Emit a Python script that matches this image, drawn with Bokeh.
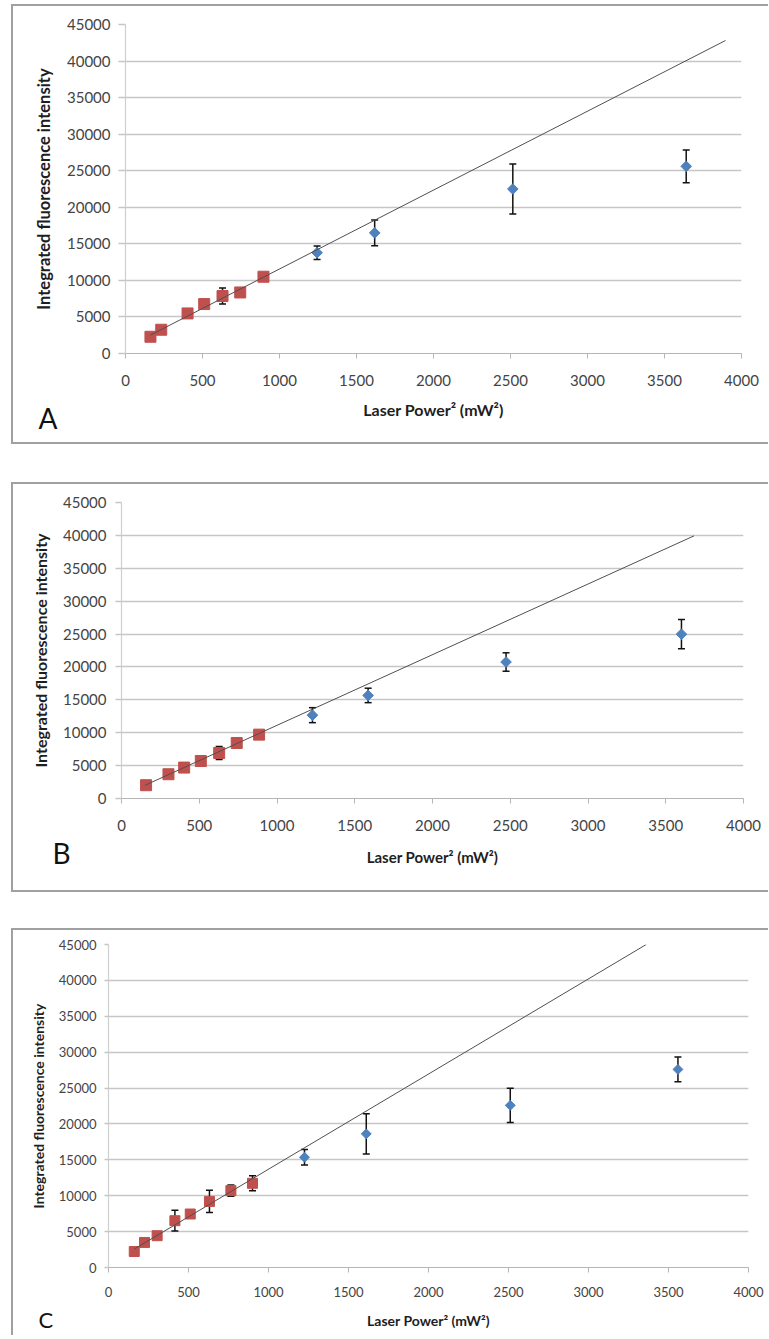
import numpy as np
from bokeh.plotting import figure
from bokeh.models import (Range1d, FixedTicker, ColumnDataSource, Whisker, TeeHead,
                          Label, Column, Spacer)
from bokeh.embed import file_html
from bokeh.resources import INLINE

# ---------------- data ----------------
x_ticks = [0, 500, 1000, 1500, 2000, 2500, 3000, 3500, 4000]
x_tick_labels = ["0", "500", "1000", "1500", "2000", "2500", "3000", "3500", "4000"]
y_ticks = [0, 5000, 10000, 15000, 20000, 25000, 30000, 35000, 40000, 45000]
y_tick_labels = ["0", "5000", "10000", "15000", "20000", "25000", "30000", "35000", "40000", "45000"]
x_title = "Laser Power\u00b2 (mW\u00b2)"
y_title = "Integrated fluorescence intensity"
letters = ["A", "B", "C"]

# Panel A
a_red_x = [162, 232, 403, 511, 630, 745, 896]
a_red_y = [2290, 3250, 5480, 6760, 7860, 8350, 10500]
a_red_err = [300, 450, 300, 300, 1100, 300, 300]
a_blue_x = [1244, 1618, 2515, 3641]
a_blue_y = [13780, 16500, 22500, 25600]
a_blue_err = [910, 1760, 3420, 2240]
a_fit_slope = 10.79
a_fit_intercept = 771
a_fit_x = [162, 3896]

# Panel B
b_red_x = [158, 302, 403, 510, 628, 741, 885]
b_red_y = [2020, 3690, 4700, 5700, 6920, 8440, 9710]
b_red_err = [300, 300, 300, 300, 1000, 300, 300]
b_blue_x = [1228, 1586, 2473, 3601]
b_blue_y = [12670, 15670, 20750, 24980]
b_blue_err = [1140, 1100, 1400, 2220]
b_fit_slope = 10.74
b_fit_intercept = 385
b_fit_x = [152, 3682]

# Panel C
c_red_x = [161, 225, 304, 415, 511, 631, 765, 900]
c_red_y = [2230, 3490, 4430, 6520, 7450, 9210, 10710, 11730]
c_red_err = [300, 300, 300, 1450, 600, 1540, 800, 1050]
c_blue_x = [1225, 1611, 2511, 3559]
c_blue_y = [15360, 18620, 22590, 27600]
c_blue_err = [1070, 2790, 2390, 1720]
c_fit_slope = 13.26
c_fit_intercept = 434
c_fit_x = [161, 3361]

# ---------------- styling / layout ----------------
RED = "#C0504D"
BLUE = "#4F81BD"
FONT = "Lato"
W = 755

geo = {
    "A": dict(h=436, fl=112, fr=728, ft=18, fb=347,
              tick="15px", ytick_out=7, ystand=8, ytitle="16.5px", ytstand=10,
              xstand=16, xtitle="16px", xtstand=11,
              letter="28px", lx=-703, ly=-64, sq=11, dia=7.5),
    "B": dict(h=406, fl=108, fr=730, ft=18, fb=314,
              tick="15px", ytick_out=6, ystand=9, ytitle="16px", ytstand=10,
              xstand=16, xtitle="15px", xtstand=14,
              letter="28px", lx=-691, ly=-54, sq=11, dia=7.5),
    "C": dict(h=405, fl=95, fr=735, ft=14, fb=337,
              tick="13px", ytick_out=4, ystand=8, ytitle="14px", ytstand=9,
              xstand=14, xtitle="14px", xtstand=12,
              letter="22px", lx=-710, ly=-52, sq=10, dia=7),
}


def make_panel(letter, rx, ry, re, bx, by, be, slope, icpt, fx):
    g = geo[letter]
    H = g["h"]
    p = figure(frame_width=g["fr"] - g["fl"], frame_height=g["fb"] - g["ft"],
               x_range=Range1d(0, 4000), y_range=Range1d(0, 45000),
               output_backend="svg", toolbar_location=None,
               min_border_left=g["fl"], min_border_right=W - g["fr"],
               min_border_top=g["ft"], min_border_bottom=H - g["fb"])
    p.outline_line_color = None
    p.background_fill_color = "white"
    p.border_fill_color = "white"

    p.xgrid.grid_line_color = None
    p.ygrid.grid_line_color = "#c6c6c6"
    p.ygrid.grid_line_width = 1.5
    p.ygrid.ticker = FixedTicker(ticks=y_ticks)

    xa = p.xaxis[0]
    xa.ticker = FixedTicker(ticks=x_ticks)
    xa.major_label_overrides = dict(zip(x_ticks, x_tick_labels))
    xa.minor_tick_line_color = None
    xa.major_tick_in = 0
    xa.major_tick_out = 5
    xa.major_tick_line_color = "#b5b5b5"
    xa.axis_line_color = "#b5b5b5"
    xa.axis_line_width = 1.2
    xa.major_label_text_font = FONT
    xa.major_label_text_font_size = g["tick"]
    xa.major_label_text_color = "#444444"
    xa.major_label_standoff = g["xstand"]
    xa.axis_label = x_title
    xa.axis_label_text_font = FONT
    xa.axis_label_text_font_style = "bold"
    xa.axis_label_text_font_size = g["xtitle"]
    xa.axis_label_text_color = "#1e1e1e"
    xa.axis_label_standoff = g["xtstand"]

    ya = p.yaxis[0]
    ya.ticker = FixedTicker(ticks=y_ticks)
    ya.major_label_overrides = dict(zip(y_ticks, y_tick_labels))
    ya.minor_tick_line_color = None
    ya.major_tick_in = 0
    ya.major_tick_out = g["ytick_out"]
    ya.major_tick_line_color = "#c6c6c6"
    ya.major_tick_line_width = 1.5
    ya.axis_line_color = "#cfcfcf"
    ya.axis_line_width = 1.2
    ya.major_label_text_font = FONT
    ya.major_label_text_font_size = g["tick"]
    ya.major_label_text_color = "#444444"
    ya.major_label_standoff = g["ystand"]
    ya.axis_label = y_title
    ya.axis_label_text_font = FONT
    ya.axis_label_text_font_style = "bold"
    ya.axis_label_text_font_size = g["ytitle"]
    ya.axis_label_text_color = "#1e1e1e"
    ya.axis_label_standoff = g["ytstand"]

    # error bars
    for xs, ys, es in ((bx, by, be), (rx, ry, re)):
        src = ColumnDataSource(dict(x=xs, upper=[y + e for y, e in zip(ys, es)],
                                    lower=[y - e for y, e in zip(ys, es)]))
        w = Whisker(base="x", upper="upper", lower="lower", source=src, dimension="height",
                    line_color="#111111", line_width=1.5,
                    upper_head=TeeHead(size=7, line_color="#111111", line_width=1.5),
                    lower_head=TeeHead(size=7, line_color="#111111", line_width=1.5))
        w.level = "underlay"
        p.add_layout(w)

    p.scatter(bx, by, marker="square", angle=np.pi / 4, size=g["dia"],
              fill_color=BLUE, line_color=BLUE)
    p.scatter(rx, ry, marker="square", size=g["sq"], fill_color=RED, line_color=RED)

    fy = [slope * x + icpt for x in fx]
    p.line(fx, fy, line_color="#505050", line_width=1)

    # panel letter, kept in the right side panel so that it is not clipped by the frame
    p.add_layout(Label(x=g["lx"], y=g["ly"], x_units="screen", y_units="screen", text=letter,
                       text_font=FONT, text_font_size=g["letter"], text_color="#111111",
                       text_baseline="alphabetic", text_align="left"), "right")
    return p


pa = make_panel("A", a_red_x, a_red_y, a_red_err, a_blue_x, a_blue_y, a_blue_err,
                a_fit_slope, a_fit_intercept, a_fit_x)
pb = make_panel("B", b_red_x, b_red_y, b_red_err, b_blue_x, b_blue_y, b_blue_err,
                b_fit_slope, b_fit_intercept, b_fit_x)
pc = make_panel("C", c_red_x, c_red_y, c_red_err, c_blue_x, c_blue_y, c_blue_err,
                c_fit_slope, c_fit_intercept, c_fit_x)

BORDER = "2px solid #a0a0a0"
boxA = Column(children=[pa], styles={"border-left": BORDER, "border-top": BORDER, "border-bottom": BORDER})
boxB = Column(children=[pb], styles={"border-left": BORDER, "border-top": BORDER, "border-bottom": BORDER})
boxC = Column(children=[pc], styles={"border-left": BORDER, "border-top": BORDER})

root = Column(children=[boxA, Spacer(height=38), boxB, Spacer(height=36), boxC],
              styles={"margin-top": "4px", "margin-left": "11px"})

open("out.html", "w").write(file_html(root, INLINE))
